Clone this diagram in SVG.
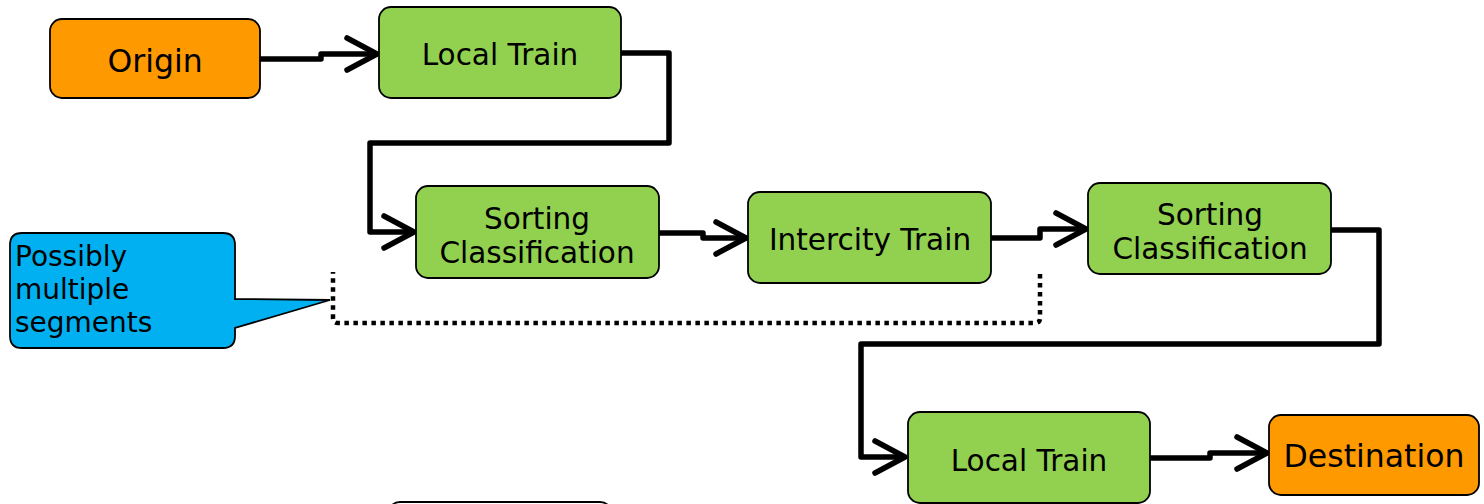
<svg xmlns="http://www.w3.org/2000/svg" width="1484" height="504" viewBox="0 0 1484 504">
<style>
.node{stroke:#000;stroke-width:1.8}
.orange{fill:#FF9900}
.green{fill:#92D050}
.blue{fill:#00B0F0}
.t{font-family:"DejaVu Sans","Verdana",sans-serif;font-size:29.5px;fill:#000;text-anchor:middle}
.tb{font-size:31.5px}
.tl{text-anchor:start;font-size:28px}
.c{fill:none;stroke:#000;stroke-width:5.5;stroke-linejoin:round}
.head{fill:none;stroke:#000;stroke-width:5.5;stroke-linecap:round;stroke-linejoin:round}
.dot{fill:none;stroke:#000;stroke-width:4.5;stroke-dasharray:4.5 4.5}
</style>
<rect width="1484" height="504" fill="#fff"/>
<g id="connectors">
<path class="c" d="M260,59 H321 V54 H376"/>
<path class="head" d="M347,38 L377,54 L347,70"/>
<path class="c" d="M621,53 H669 V143 H370 V232 H413"/>
<path class="head" d="M384,216 L414,232 L384,248"/>
<path class="c" d="M659,233 H703 V238 H745"/>
<path class="head" d="M716,222 L746,238 L716,254"/>
<path class="c" d="M991,238 H1040 V229 H1085"/>
<path class="head" d="M1056,213 L1086,229 L1056,245"/>
<path class="c" d="M1331,230 H1379 V344 H861 V457 H904"/>
<path class="head" d="M875,441 L905,457 L875,473"/>
<path class="c" d="M1150,458 H1210 V453 H1265"/>
<path class="head" d="M1237,437 L1267,453 L1237,469"/>
<path class="dot" d="M1040,274 V318 Q1040,323 1035,323 H338 Q333,323 333,318 V272"/>
</g>
<g id="origin">
<rect class="node orange" x="50" y="19" width="210" height="79" rx="12"/>
<text class="t tb" x="155" y="72">Origin</text>
</g>
<g id="local-train-1">
<rect class="node green" x="379" y="7" width="242" height="91" rx="12"/>
<text class="t" x="500" y="65">Local Train</text>
</g>
<g id="sorting-1">
<rect class="node green" x="416" y="186" width="243" height="92" rx="12"/>
<text class="t" x="537" y="229">Sorting</text>
<text class="t" x="537" y="263">Classification</text>
</g>
<g id="intercity-train">
<rect class="node green" x="748" y="192" width="243" height="91" rx="12"/>
<text class="t" x="870" y="250">Intercity Train</text>
</g>
<g id="sorting-2">
<rect class="node green" x="1088" y="183" width="243" height="91" rx="12"/>
<text class="t" x="1210" y="225">Sorting</text>
<text class="t" x="1210" y="259">Classification</text>
</g>
<g id="local-train-2">
<rect class="node green" x="908" y="412" width="242" height="91" rx="12"/>
<text class="t" x="1029" y="471">Local Train</text>
</g>
<g id="destination">
<rect class="node orange" x="1269" y="415" width="210" height="80" rx="12"/>
<text class="t tb" x="1374" y="467">Destination</text>
</g>
<g id="callout">
<path class="node blue" d="M22,233 H223 Q235,233 235,245 V299 L330,300 L235,328 V336 Q235,348 223,348 H22 Q10,348 10,336 V245 Q10,233 22,233 Z"/>
<text class="t tl" x="15" y="266">Possibly</text>
<text class="t tl" x="15" y="299">multiple</text>
<text class="t tl" x="15" y="332">segments</text>
</g>
<g id="partial-node">
<rect class="node" fill="#fff" x="388" y="502" width="224" height="60" rx="12"/>
</g>
</svg>
